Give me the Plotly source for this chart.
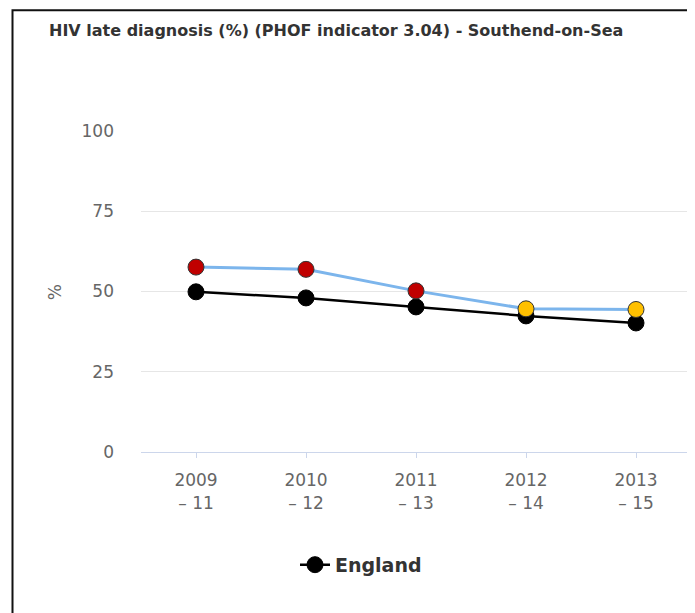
import plotly.graph_objects as go

categories = ["2009<br>– 11", "2010<br>– 12", "2011<br>– 13", "2012<br>– 14", "2013<br>– 15"]
southend = [57.6, 56.9, 50.2, 44.6, 44.4]
southend_colors = ["#c00000", "#c00000", "#c00000", "#ffc000", "#ffc000"]
england = [49.9, 48.0, 45.2, 42.4, 40.2]
y_ticks = [0, 25, 50, 75, 100]

title_text = "HIV late diagnosis (%) (PHOF indicator 3.04) - Southend-on-Sea"

FONT = "DejaVu Sans"

fig = go.Figure()
fig.add_trace(go.Scatter(
    x=categories, y=england, name="England", mode="lines+markers",
    line=dict(color="#000000", width=2.5),
    marker=dict(size=16, color="#000000", line=dict(color="#000000", width=1)),
    showlegend=True,
))
fig.add_trace(go.Scatter(
    x=categories, y=southend, name="Southend-on-Sea", mode="lines+markers",
    line=dict(color="#7cb5ec", width=3),
    marker=dict(size=16, color=southend_colors, line=dict(color="#333333", width=1)),
    showlegend=False,
))

# page body has an 8px margin; work in window pixels and shift
OFF = 8
W, H = 695 - OFF, 613 - OFF
L, R, T, B = 141 - OFF, 4, 130.5 - OFF, 161
pw = W - L - R
ph = H - T - B

def px_x(x):
    return (x - OFF - L) / pw

def px_y(y):
    return (H - B - (y - OFF)) / ph

fig.update_layout(
    width=W, height=H,
    margin=dict(l=L, r=R, t=T, b=B, autoexpand=False),
    paper_bgcolor="white", plot_bgcolor="white",
    font=dict(family=FONT, color="#666666"),
    hovermode=False,
    showlegend=True,
    legend=dict(
        orientation="h", x=px_x(361), xanchor="center", y=px_y(565), yanchor="middle",
        font=dict(size=19, color="#333333", family=FONT, weight="bold"),
        itemwidth=30,
    ),
    xaxis=dict(
        type="category", range=[-0.5, 4.5],
        showgrid=False, showline=True, linecolor="#ccd6eb", linewidth=1,
        ticks="outside", ticklen=5, tickcolor="#ccd6eb",
        tickfont=dict(size=17, color="#666666", family=FONT),
        ticklabelstandoff=8,
        zeroline=False, fixedrange=True,
    ),
    yaxis=dict(
        range=[0, 100], tickvals=y_ticks, ticktext=[str(v) for v in y_ticks],
        showgrid=True, gridcolor="#e6e6e6", gridwidth=1,
        zeroline=False, showline=False,
        tickfont=dict(size=17, color="#666666", family=FONT),
        ticklabelstandoff=26, fixedrange=True,
    ),
    annotations=[
        dict(text=title_text, xref="paper", yref="paper", x=px_x(47), y=px_y(30),
             xanchor="left", yanchor="middle", showarrow=False,
             font=dict(size=16, color="#333333", family=FONT, weight="bold")),
        dict(text="%", xref="paper", yref="paper", x=px_x(55), y=px_y(292),
             xanchor="center", yanchor="middle", showarrow=False, textangle=-90,
             font=dict(size=17, color="#666666", family=FONT)),
    ],
    shapes=[
        dict(type="rect", xref="paper", yref="paper",
             x0=px_x(12.5), x1=px_x(720), y0=px_y(640), y1=px_y(9.5),
             line=dict(color="#111111", width=2), fillcolor="rgba(0,0,0,0)", layer="above"),
    ],
)

fig.write_html("out.html")
